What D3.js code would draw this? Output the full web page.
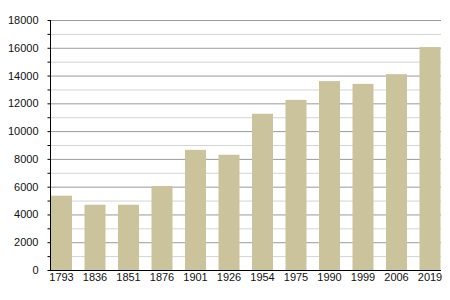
<!DOCTYPE html>
<meta charset="utf-8">
<style>
  body { margin: 0; background: #fff; }
  text { font-family: "Liberation Sans", Arial, sans-serif; font-size: 11px; fill: #111; }
</style>
<script src="https://d3js.org/d3.v7.min.js"></script>
<body>
<script>

// population by census year
var years = ["1793", "1836", "1851", "1876", "1901", "1926", "1954", "1975", "1990", "1999", "2006", "2019"];
var population = [5350, 4700, 4700, 6050, 8650, 8300, 11250, 12250, 13600, 13400, 14100, 16050];
var yTicks = [0, 2000, 4000, 6000, 8000, 10000, 12000, 14000, 16000, 18000];
var yMinor = [1000, 3000, 5000, 7000, 9000, 11000, 13000, 15000, 17000];

var svg = d3.select("body").append("svg")
    .attr("width", 450)
    .attr("height", 300);

var x = d3.scaleBand()
    .domain(years)
    .range([51, 440.5])
    .paddingInner(0.373)
    .paddingOuter(0);

var y = d3.scaleLinear()
    .domain([0, 18000])
    .range([270, 20]);

// minor grid lines
svg.append("g").selectAll("line")
    .data(yMinor)
    .enter().append("line")
    .attr("x1", 50).attr("x2", 441)
    .attr("y1", function(d) { return y(d) + 0.5; })
    .attr("y2", function(d) { return y(d) + 0.5; })
    .attr("stroke", "#d4d4d4");

// major grid lines
svg.append("g").selectAll("line")
    .data(yTicks.slice(1))
    .enter().append("line")
    .attr("x1", 50).attr("x2", 441)
    .attr("y1", function(d) { return y(d) + 0.5; })
    .attr("y2", function(d) { return y(d) + 0.5; })
    .attr("stroke", "#9a9a9a");

svg.append("g").selectAll("rect")
    .data(population)
    .enter().append("rect")
    .attr("x", function(d, i) { return x(years[i]); })
    .attr("width", x.bandwidth())
    .attr("y", function(d) { return y(d); })
    .attr("height", function(d) { return y(0) - y(d); })
    .attr("fill", "#cbc39b");

// y axis
var yAxis = svg.append("g")
    .attr("transform", "translate(50.5,0)")
    .call(d3.axisLeft(y).tickValues(yTicks).tickSize(3).tickPadding(9).tickFormat(d3.format("d")));
yAxis.select(".domain").attr("d", "M0," + y(18000) + "V" + (y(0) + 0.5));
yAxis.selectAll("line").attr("stroke", "#000");
yAxis.selectAll("text").style("font-size", "11px");

svg.append("g")
    .attr("transform", "translate(50.5,0)")
    .selectAll("line")
    .data(yMinor)
    .enter().append("line")
    .attr("x1", -3).attr("x2", 0)
    .attr("y1", function(d) { return y(d) + 0.5; })
    .attr("y2", function(d) { return y(d) + 0.5; })
    .attr("stroke", "#000");

// x axis
var xAxis = svg.append("g")
    .attr("transform", "translate(0,270.5)")
    .call(d3.axisBottom(x).tickSize(0).tickPadding(3));
xAxis.select(".domain").attr("d", "M50,0H441").attr("stroke", "#000");
xAxis.selectAll("text").style("font-size", "11px");

</script>
